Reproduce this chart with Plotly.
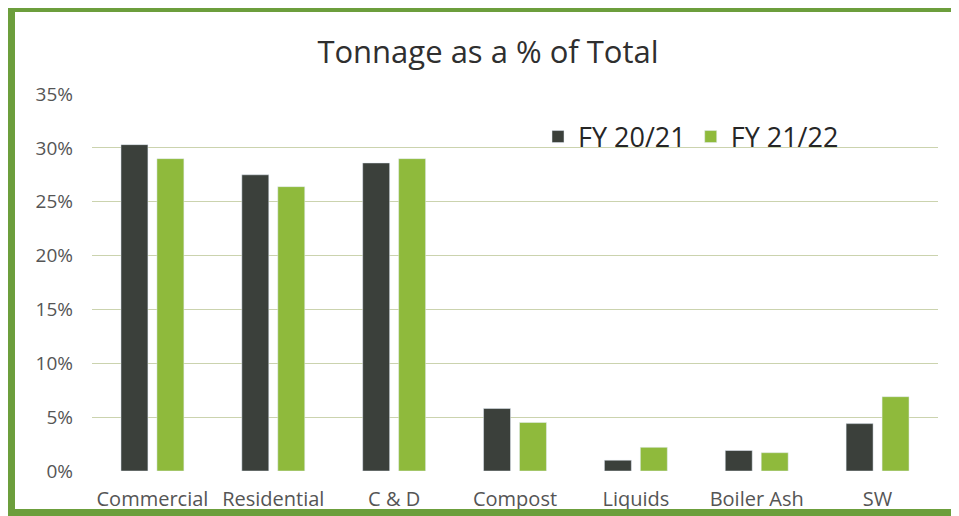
import plotly.graph_objects as go

categories = ["Commercial", "Residential", "C & D", "Compost", "Liquids", "Boiler Ash", "SW"]
fy2021 = [30.3, 27.5, 28.6, 5.8, 1.0, 1.9, 4.4]
fy2122 = [29.0, 26.4, 29.0, 4.5, 2.2, 1.7, 6.9]
series_names = ["FY 20/21", "FY 21/22"]
y_ticks = [0, 5, 10, 15, 20, 25, 30, 35]
y_ticklabels = [f"{v}%" for v in y_ticks]

# window is 959x516; the page body adds an 8px margin, so the figure starts at (8, 8)
WIN_W, WIN_H, OFF = 959, 516, 8
FW, FH = WIN_W - OFF, WIN_H - OFF
PX0, PX1, PY0, PY1 = 92, 938, 94, 471      # plot area in window pixels
L, R, T, B = PX0 - OFF, WIN_W - PX1, PY0 - OFF, WIN_H - PY1
pw, ph = PX1 - PX0, PY1 - PY0

def px(x):
    return (x - PX0) / pw

def py(y):
    return (PY1 - y) / ph

DARK = "#3b403b"
GREEN = "#8fba3c"
BORDER = "#6c9e3c"
FONT = "Open Sans"

fig = go.Figure()
fig.add_trace(go.Bar(x=categories, y=fy2021, name=series_names[0], marker_color=DARK))
fig.add_trace(go.Bar(x=categories, y=fy2122, name=series_names[1], marker_color=GREEN))

shapes = [
    dict(type="rect", xref="paper", yref="paper", x0=px(8), x1=px(15), y0=py(515), y1=py(4),
         fillcolor=BORDER, line_width=0, layer="above"),
    dict(type="rect", xref="paper", yref="paper", x0=px(8), x1=px(960), y0=py(12), y1=py(4),
         fillcolor=BORDER, line_width=0, layer="above"),
    dict(type="rect", xref="paper", yref="paper", x0=px(8), x1=px(960), y0=py(516), y1=py(509),
         fillcolor=BORDER, line_width=0, layer="above"),
]

fig.update_layout(
    width=FW, height=FH, autosize=False,
    margin=dict(l=L, r=R, t=T, b=B, autoexpand=False),
    paper_bgcolor="white", plot_bgcolor="white",
    barmode="group", bargap=0.405, bargroupgap=0.25,
    title=dict(text="Tonnage as a % of Total", x=(488 - OFF) / FW, xanchor="center",
               y=1 - (52 - OFF) / FH, yanchor="middle",
               font=dict(family=FONT, size=31, color="#2f2f2f")),
    font=dict(family=FONT, color="#595959"),
    legend=dict(orientation="h", x=px(538), y=py(137), xanchor="left", yanchor="middle",
                font=dict(size=27, color="#262626"), bgcolor="rgba(0,0,0,0)",
                itemwidth=30, traceorder="normal"),
    xaxis=dict(showgrid=False, showline=False, ticks="", automargin=False,
               tickfont=dict(size=20, color="#555555"), ticklabelstandoff=14),
    yaxis=dict(range=[0, 35], tickvals=y_ticks, ticktext=y_ticklabels, automargin=False,
               showgrid=True, gridcolor="#cbd3ae", gridwidth=1, zeroline=False,
               showline=False, ticks="", tickfont=dict(size=19, color="#555555"),
               ticklabelstandoff=18),
    shapes=shapes,
    showlegend=True,
)

fig.write_html("out.html", config={"displayModeBar": False, "responsive": False})
